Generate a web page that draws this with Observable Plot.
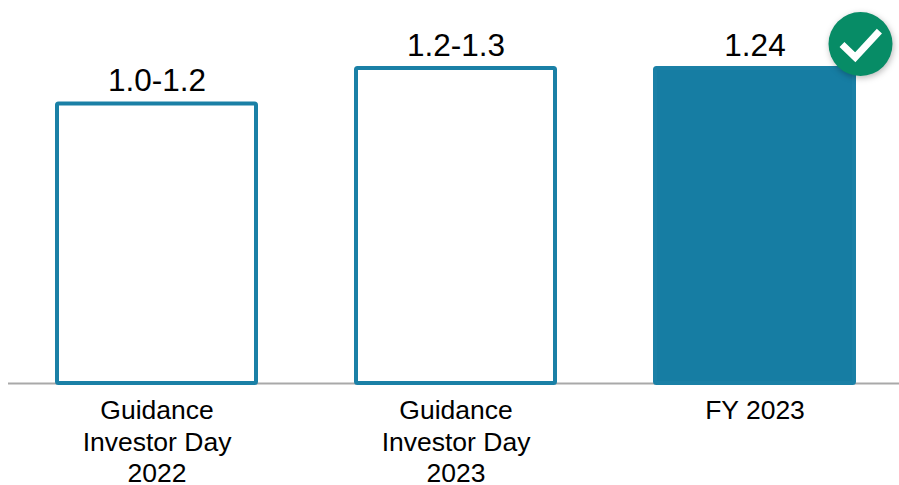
<!DOCTYPE html>
<html>
<head>
<meta charset="utf-8">
<script src="https://cdn.jsdelivr.net/npm/d3@7"></script>
<script src="https://cdn.jsdelivr.net/npm/@observablehq/plot@0.6"></script>
<style>
  html, body { margin: 0; padding: 0; background: #fff; }
  svg { display: block; }
</style>
</head>
<body>
<div id="chart"></div>
<script>
// Guidance ranges against the delivered full-year figure
const categories = ["Guidance\nInvestor Day\n2022", "Guidance\nInvestor Day\n2023", "FY 2023"];
const barValues = [1.1, 1.24, 1.24];
const valueLabels = ["1.0-1.2", "1.2-1.3", "1.24"];
const barFills = ["#ffffff", "#ffffff", "#167da3"];
const achieved = ["FY 2023"];

const rows = categories.map((category, i) => ({
  category,
  value: barValues[i],
  label: valueLabels[i],
  fill: barFills[i]
}));
const achievedRows = rows.filter(d => achieved.includes(d.category));

// Tick shape for the badge, drawn around the dot's centre
const tickSymbol = {
  draw(context, size) {
    const s = Math.sqrt(size) / 2;
    context.moveTo(-s * 0.95, s * 0.02);
    context.lineTo(-s * 0.27, s * 0.68);
    context.lineTo(s * 0.97, -s * 0.66);
  }
};

const chart = Plot.plot({
  width: 899,
  height: 485,
  marginTop: 0,
  marginBottom: 102,
  marginLeft: 8,
  marginRight: 0,
  style: { fontFamily: "'Liberation Sans', Arial, sans-serif", background: "#fff" },
  x: { domain: categories, range: [7.5, 904.5], paddingInner: 0.334, paddingOuter: 0.167, axis: null },
  y: { domain: [0, 383 / 254], range: [383, 0], axis: null },
  marks: [
    Plot.ruleY([0], { stroke: "#a9a9a9", strokeWidth: 2 }),
    Plot.barY(rows, {
      x: "category",
      y: "value",
      fill: "fill",
      stroke: "#1a80a6",
      strokeWidth: 4,
      rx: 1.5
    }),
    Plot.text(rows, {
      x: "category",
      y: "value",
      text: "label",
      dy: -23,
      fontSize: 31.5,
      fill: "#000"
    }),
    Plot.axisX({
      anchor: "bottom",
      domain: categories,
      tickSize: 0,
      tickPadding: 13.5,
      fontSize: 26.5,
      lineHeight: 1.19,
      fill: "#000",
      label: null
    }),
    // Green "achieved" badge at the top corner of the delivered bar
    Plot.dot(achievedRows, {
      x: "category",
      y: "value",
      dx: 105.5,
      dy: -24.5,
      r: 32,
      fill: "#078c66",
      imageFilter: "drop-shadow(1px 2px 3px rgba(0,0,0,0.28))"
    }),
    Plot.dot(achievedRows, {
      x: "category",
      y: "value",
      dx: 105.5,
      dy: -24.5,
      symbol: tickSymbol,
      r: 22,
      fill: "none",
      stroke: "#fff",
      strokeWidth: 7
    })
  ]
});

document.getElementById("chart").append(chart);
</script>
</body>
</html>
